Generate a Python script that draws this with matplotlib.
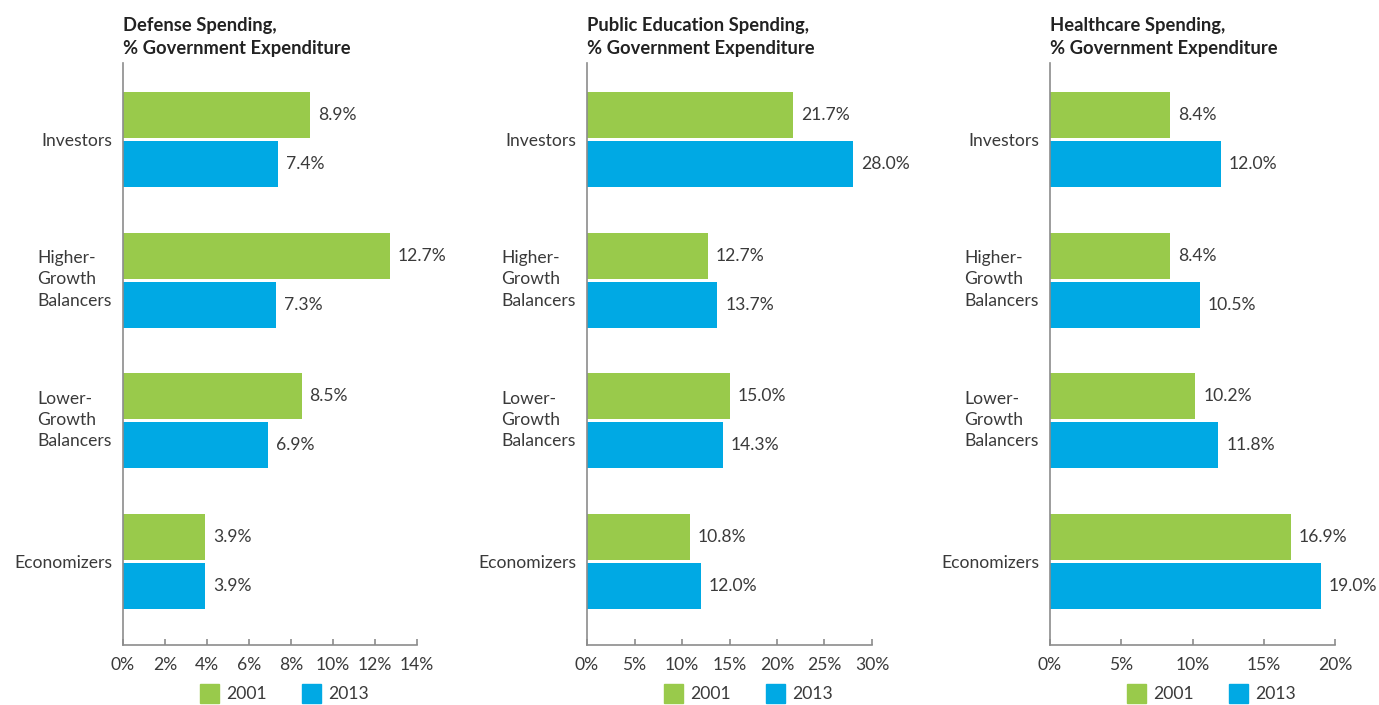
"""
Government spending by country group, 2001 vs 2013 (three horizontal bar panels).
"""
import matplotlib.pyplot as plt
import matplotlib.patches as mpatches
from matplotlib.transforms import ScaledTranslation

plt.rcParams['font.family'] = ['Lato', 'DejaVu Sans']

GREEN = '#99CA4B'
BLUE = '#00A9E4'
AXIS = '#8C8C8C'
TXT = '#3A3A3A'
FS = 12.6

# data
groups = ['Investors', 'Higher-\nGrowth\nBalancers', 'Lower-\nGrowth\nBalancers', 'Economizers']
years = ['2001', '2013']

titles = ['Defense Spending,\n% Government Expenditure',
          'Public Education Spending,\n% Government Expenditure',
          'Healthcare Spending,\n% Government Expenditure']

defense_2001 = [8.9, 12.7, 8.5, 3.9]
defense_2013 = [7.4, 7.3, 6.9, 3.9]
education_2001 = [21.7, 12.7, 15.0, 10.8]
education_2013 = [28.0, 13.7, 14.3, 12.0]
health_2001 = [8.4, 8.4, 10.2, 16.9]
health_2013 = [12.0, 10.5, 11.8, 19.0]

x_max = [14, 30, 20]
x_step = [2, 5, 5]

W, H = 1379, 705
fig = plt.figure(figsize=(W / 100, H / 100), dpi=100)
fig.patch.set_facecolor('white')

# axes boxes in pixels: (left, right)
boxes = [(123, 417), (587, 872), (1050, 1335)]
ax_top, ax_bot = 63, 645

panels = [(defense_2001, defense_2013), (education_2001, education_2013),
          (health_2001, health_2013)]

pos = [3, 2, 1, 0]
bh = 0.327
off = 0.174

for i, ((v01, v13), (l, r)) in enumerate(zip(panels, boxes)):
    ax = fig.add_axes([l / W, (H - ax_bot) / H, (r - l) / W, (ax_bot - ax_top) / H])
    ax.barh([p + off for p in pos], v01, height=bh, color=GREEN, label=years[0])
    ax.barh([p - off for p in pos], v13, height=bh, color=BLUE, label=years[1])

    pad = x_max[i] * 8 / (r - l)
    for p, a, b in zip(pos, v01, v13):
        ax.text(a + pad, p + off, f'{a:.1f}%', va='center', ha='left', fontsize=FS, color=TXT)
        ax.text(b + pad, p - off, f'{b:.1f}%', va='center', ha='left', fontsize=FS, color=TXT)

    ax.set_xlim(0, x_max[i])
    ax.set_ylim(-0.593, 3.544)
    ticks = list(range(0, x_max[i] + 1, x_step[i]))
    ax.set_xticks(ticks)
    ax.set_xticklabels([f'{t}%' for t in ticks])
    ax.set_yticks(pos)
    ax.set_yticklabels(groups, multialignment='left', linespacing=1.4)

    for s in ['top', 'right']:
        ax.spines[s].set_visible(False)
    for s in ['left', 'bottom']:
        ax.spines[s].set_color(AXIS)
        ax.spines[s].set_linewidth(1.2)
    ax.tick_params(axis='x', direction='in', length=4, width=1.2, color=AXIS,
                   labelsize=FS, labelcolor=TXT, pad=9)
    ax.tick_params(axis='y', length=0, labelsize=FS, labelcolor=TXT, pad=8)

    # nudge the three-line labels up a little so they centre on the bar pair
    for lab in ax.get_yticklabels():
        if '\n' in lab.get_text():
            lab.set_transform(lab.get_transform() +
                              ScaledTranslation(0, 3.5 / 72, fig.dpi_scale_trans))

    ax.text(0, 1 + 9 / (ax_bot - ax_top), titles[i], transform=ax.transAxes,
            ha='left', va='baseline', fontsize=13.2, fontweight='bold', color='#222222',
            linespacing=1.45)

    handles = [mpatches.Patch(color=GREEN, label=years[0]),
               mpatches.Patch(color=BLUE, label=years[1])]
    ax.legend(handles=handles, loc='upper left', ncol=2, frameon=False,
              bbox_to_anchor=(77 / (r - l), -39 / (ax_bot - ax_top)),
              borderpad=0, borderaxespad=0, fontsize=FS, handlelength=1.08,
              handleheight=1.3, handletextpad=0.42, columnspacing=2.0,
              labelcolor=TXT)

fig.savefig('out.png', dpi=100, facecolor='white')
plt.close(fig)
